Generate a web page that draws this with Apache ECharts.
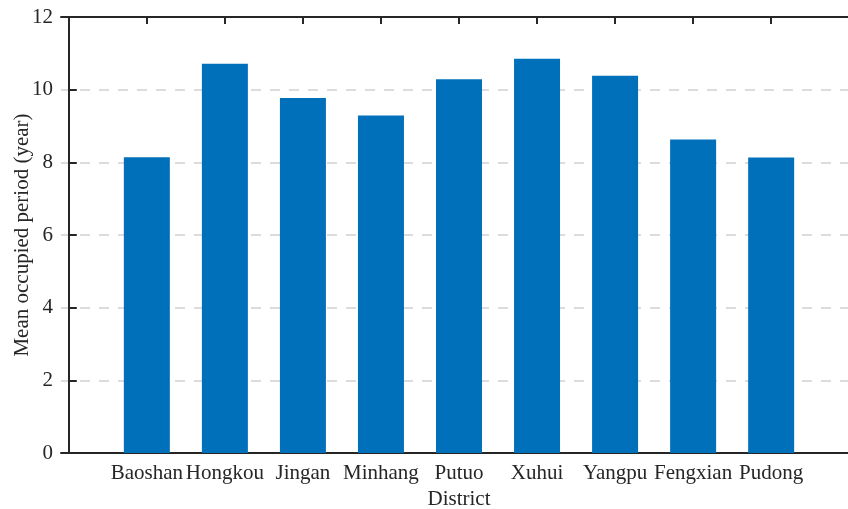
<!DOCTYPE html>
<html>
<head>
    <meta charset="UTF-8">
    <title>Mean occupied period</title>
    <script src="https://cdn.jsdelivr.net/npm/echarts@6/dist/echarts.min.js"></script>
    <style>
        html, body { margin: 0; padding: 0; background: #fff; }
        #chart { width: 848px; height: 509px; }
    </style>
</head>
<body>
<div id="chart"></div>
<script>
    // data
    var districts = ['Baoshan', 'Hongkou', 'Jingan', 'Minhang', 'Putuo', 'Xuhui', 'Yangpu', 'Fengxian', 'Pudong'];
    var meanPeriod = [8.14, 10.71, 9.77, 9.29, 10.29, 10.85, 10.38, 8.63, 8.13];
    var yTicks = [0, 2, 4, 6, 8, 10, 12];

    var positions = districts.map(function (d, i) { return i + 1; });
    var barData = positions.map(function (p, i) { return [p, meanPeriod[i]]; });

    var font = 'Liberation Serif, Times New Roman, serif';
    var ink = '#262626';

    var chart = echarts.init(document.getElementById('chart'));
    var option = {
        animation: false,
        grid: { left: 61, right: -9, top: 17, bottom: 56, outerBoundsMode: 'none', containLabel: false },
        xAxis: [{
            type: 'value',
            min: -0.1,
            max: 10.1,
            position: 'bottom',
            name: 'District',
            nameLocation: 'middle',
            nameGap: 33,
            nameTextStyle: { fontFamily: font, fontSize: 21, color: ink },
            axisLine: { show: true, lineStyle: { color: ink, width: 2 } },
            axisTick: { show: true, inside: true, length: 7, customValues: positions, lineStyle: { color: ink, width: 2 } },
            axisLabel: {
                show: true, customValues: positions, margin: 10,
                fontFamily: font, fontSize: 21, color: ink,
                formatter: function (v) { return districts[Math.round(v) - 1] || ''; }
            },
            splitLine: { show: false }
        }, {
            type: 'value',
            min: -0.1,
            max: 10.1,
            position: 'top',
            axisLine: { show: true, onZero: false, lineStyle: { color: ink, width: 2 } },
            axisTick: { show: true, inside: true, length: 7, customValues: positions, lineStyle: { color: ink, width: 2 } },
            axisLabel: { show: false },
            splitLine: { show: false }
        }],
        yAxis: {
            type: 'value',
            min: yTicks[0],
            max: yTicks[yTicks.length - 1],
            interval: 2,
            name: 'Mean occupied period (year)',
            nameLocation: 'middle',
            nameGap: 28,
            nameMoveOverlap: false,
            nameTextStyle: { fontFamily: font, fontSize: 21, color: ink },
            axisLine: { show: true, lineStyle: { color: ink, width: 2 } },
            axisTick: { show: true, inside: true, length: 8, lineStyle: { color: ink, width: 2 } },
            axisLabel: { fontFamily: font, fontSize: 21, color: ink, margin: 8 },
            splitLine: {
                show: true,
                lineStyle: { color: '#dcdcdc', width: 2, type: [10, 9] }
            }
        },
        series: [{
            type: 'bar',
            xAxisIndex: 0,
            data: barData,
            barWidth: 46,
            itemStyle: { color: '#0070BB' }
        }]
    };
    chart.setOption(option);
</script>
</body>
</html>
